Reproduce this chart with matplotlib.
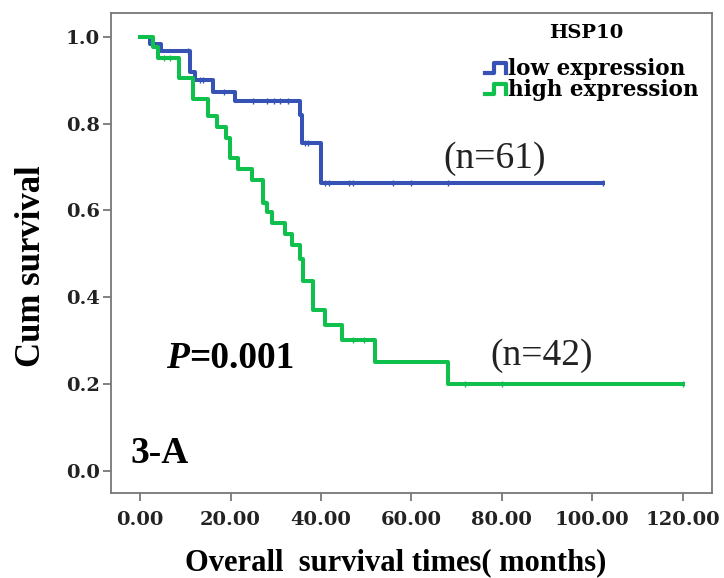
import numpy as np
import matplotlib
matplotlib.use("Agg")
from matplotlib import pyplot as plt
from matplotlib.lines import Line2D
from matplotlib.legend_handler import HandlerBase


# survival curves (Kaplan-Meier steps), time in months
low_times = [0, 2.2, 4.6, 11.0, 12.2, 16.2, 21.0, 35.3, 35.8, 40.1]
low_surv = [1.0, 0.984, 0.967, 0.918, 0.900, 0.872, 0.852, 0.820, 0.755, 0.662]
low_end = 102.3
low_censor = [10.5, 13.2, 14.0, 18.6, 25.0, 28.0, 29.5, 30.9, 32.8, 36.4, 37.2,
              41.0, 41.8, 46.3, 47.0, 56.0, 60.0, 68.1, 102.3]

high_times = [0, 2.9, 4.0, 8.6, 11.8, 14.9, 16.9, 19.1, 19.9, 21.7, 24.7, 27.2,
              28.0, 29.1, 32.0, 33.5, 35.4, 36.1, 38.3, 40.9, 44.6, 51.9, 68.1]
high_surv = [1.0, 0.976, 0.952, 0.905, 0.857, 0.817, 0.792, 0.767, 0.720, 0.695,
             0.671, 0.618, 0.597, 0.572, 0.545, 0.520, 0.487, 0.437, 0.370, 0.336,
             0.302, 0.251, 0.201]
high_end = 120.0
high_censor = [5.2, 6.5, 27.6, 47.0, 49.5, 71.8, 80.0, 120.0]

groups = ['low expression', 'high expression']
colors = ['#3552b4', '#10c04c']

xticks = [0, 20, 40, 60, 80, 100, 120]
yticks = [0.0, 0.2, 0.4, 0.6, 0.8, 1.0]


class StepHandler(HandlerBase):
    def create_artists(self, legend, orig_handle, xdescent, ydescent,
                       width, height, fontsize, trans):
        xs = np.array([0, 0.45, 0.45, 1, 1]) * width - xdescent
        ys = np.array([0.15, 0.15, 0.8, 0.8, 0.15]) * height - ydescent
        ln = Line2D(xs, ys, color=orig_handle.get_color(), lw=3)
        ln.set_transform(trans)
        return [ln]


def step_value(times, surv, t):
    idx = np.searchsorted(times, t, side='right') - 1
    return np.array(surv)[idx]


fig, ax = plt.subplots(figsize=(7.24, 5.78), dpi=100)
fig.subplots_adjust(left=0.153, right=0.984, bottom=0.147, top=0.977)

handles = []
for times, surv, end, cens, c, lab in [
        (low_times, low_surv, low_end, low_censor, colors[0], groups[0]),
        (high_times, high_surv, high_end, high_censor, colors[1], groups[1])]:
    tx = list(times) + [end]
    sy = list(surv) + [surv[-1]]
    h, = ax.step(tx, sy, where='post', color=c, lw=2.9, label=lab)
    ax.plot(cens, step_value(times, surv, cens), ls='none', marker='|',
            ms=5, mew=1.0, color=c)
    handles.append(h)

ax.set_xlim(-6.5, 126.6)
ax.set_ylim(-0.051, 1.054)
ax.set_xticks(xticks)
ax.set_xticklabels(['%.2f' % v for v in xticks])
ax.set_yticks(yticks)
ax.set_yticklabels(['%.1f' % v for v in yticks])

for lab in ax.get_xticklabels() + ax.get_yticklabels():
    lab.set_fontfamily('DejaVu Serif')
    lab.set_fontweight('bold')
    lab.set_fontsize(14)
    lab.set_color('#222222')

for s in ax.spines.values():
    s.set_color('#777777')
    s.set_linewidth(1.3)
ax.tick_params(axis='both', length=6, width=1.3, color='#777777')
ax.tick_params(axis='x', pad=7)
ax.tick_params(axis='y', pad=2)

ax.set_xlabel('Overall  survival times( months)', family='Liberation Serif',
              weight='bold', size=22)
ax.xaxis.set_label_coords(0.474, -0.115)
ax.set_ylabel('Cum survival', family='Liberation Serif', weight='bold',
              size=25)
ax.yaxis.set_label_coords(-0.105, 0.473)

ax.text(67, 0.72, '(n=61)', family='Liberation Serif', size=27,
        ha='left', va='center', color='#222222')
ax.text(77.5, 0.266, '(n=42)', family='Liberation Serif', size=27,
        ha='left', va='center', color='#222222')
p = ax.text(5.8, 0.258, 'P', family='Liberation Serif', weight='bold',
            style='italic', size=27, ha='left', va='center')
ax.annotate('=0.001', xy=(1, 0), xycoords=p, family='Liberation Serif',
            weight='bold', size=27, ha='left', va='bottom')
ax.text(-2.2, 0.04, '3-A', family='Liberation Serif', weight='bold', size=27,
        ha='left', va='center')

ax.text(0.791, 0.958, 'HSP10', transform=ax.transAxes, family='DejaVu Serif',
        weight='bold', size=14, ha='center', va='center')
leg = ax.legend(handles=handles, labels=groups,
                handler_map={Line2D: StepHandler()}, loc='upper right',
                bbox_to_anchor=(0.992, 0.925), frameon=False,
                prop=dict(family='DejaVu Serif', weight='bold', size=15.5),
                handlelength=1.0, handletextpad=0.1, labelspacing=-0.05,
                borderpad=0.1, borderaxespad=0.3)

fig.savefig('out.png', dpi=100)
